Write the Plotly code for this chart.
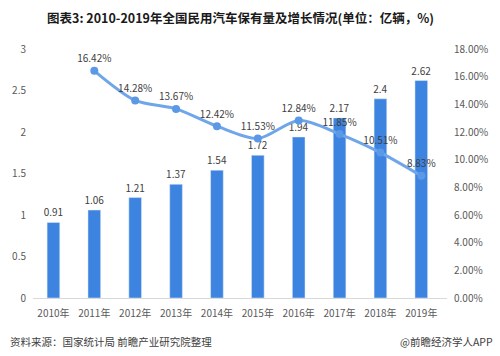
import plotly.graph_objects as go

years = ["2010年", "2011年", "2012年", "2013年", "2014年", "2015年", "2016年", "2017年", "2018年", "2019年"]
stock = [0.91, 1.06, 1.21, 1.37, 1.54, 1.72, 1.94, 2.17, 2.4, 2.62]
growth_years = years[1:]
growth = [16.42, 14.28, 13.67, 12.42, 11.53, 12.84, 11.85, 10.51, 8.83]
left_ticks = [0, 0.5, 1, 1.5, 2, 2.5, 3]
left_tick_text = ["0", "0.5", "1", "1.5", "2", "2.5", "3"]
right_ticks = [0, 2, 4, 6, 8, 10, 12, 14, 16, 18]
right_tick_text = ["%.2f%%" % v for v in right_ticks]

FONT = "Noto Sans CJK SC"
fig = go.Figure()
fig.add_trace(go.Bar(
    x=years, y=stock, marker_color="#3d84e0",
    text=[str(v) for v in stock], textposition="outside", constraintext="none",
    textfont=dict(size=10, color="#404040", family=FONT),
    cliponaxis=False, yaxis="y", showlegend=False,
))
fig.add_trace(go.Scatter(
    x=growth_years, y=growth, mode="lines+markers+text",
    line=dict(color="#6fa6ea", width=3, shape="spline", smoothing=0.8),
    marker=dict(size=8, color="#5b98e6"),
    text=["%.2f%%" % v for v in growth], textposition="top center",
    textfont=dict(size=10, color="#404040", family=FONT),
    cliponaxis=False, yaxis="y2", showlegend=False,
))
fig.update_layout(
    width=500, height=356,
    margin=dict(l=31, r=49, t=49, b=58),
    paper_bgcolor="white", plot_bgcolor="white",
    bargap=0.69,
    font=dict(family=FONT, color="#595959", size=10),
    xaxis=dict(showline=True, linecolor="#d9d9d9", linewidth=1, ticks="",
               ticklabelstandoff=6,
               tickfont=dict(size=10, color="#595959"), showgrid=False),
    yaxis=dict(range=[0, 3], tickvals=left_ticks, ticktext=left_tick_text, showgrid=False,
               ticklabelstandoff=6,
               zeroline=False, showline=False, tickfont=dict(size=10, color="#595959")),
    yaxis2=dict(range=[0, 18], tickvals=right_ticks, ticktext=right_tick_text, overlaying="y",
                side="right", showgrid=False, zeroline=False, showline=False,
                ticklabelstandoff=6,
                tickfont=dict(size=10, color="#595959")),
    annotations=[
        dict(text="<b>图表3: 2010-2019年全国民用汽车保有量及增长情况(单位：亿辆，%)</b>",
             xref="paper", yref="paper", x=0.5, y=1, yshift=32, xanchor="center", yanchor="middle",
             showarrow=False, font=dict(size=12.5, color="#1a1a1a", family=FONT)),
        dict(text="资料来源：国家统计局 前瞻产业研究院整理", xref="paper", yref="paper",
             x=0, xshift=-25, y=0, yshift=-43, xanchor="left", yanchor="middle",
             showarrow=False, font=dict(size=10.5, color="#404040", family=FONT)),
        dict(text="@前瞻经济学人APP", xref="paper", yref="paper",
             x=1, xshift=48, y=0, yshift=-43, xanchor="right", yanchor="middle",
             showarrow=False, font=dict(size=10.5, color="#404040", family=FONT)),
    ],
)
fig.write_html("out.html", config={"displayModeBar": False},
               post_script="document.body.style.margin='0';document.body.style.padding='0';")
